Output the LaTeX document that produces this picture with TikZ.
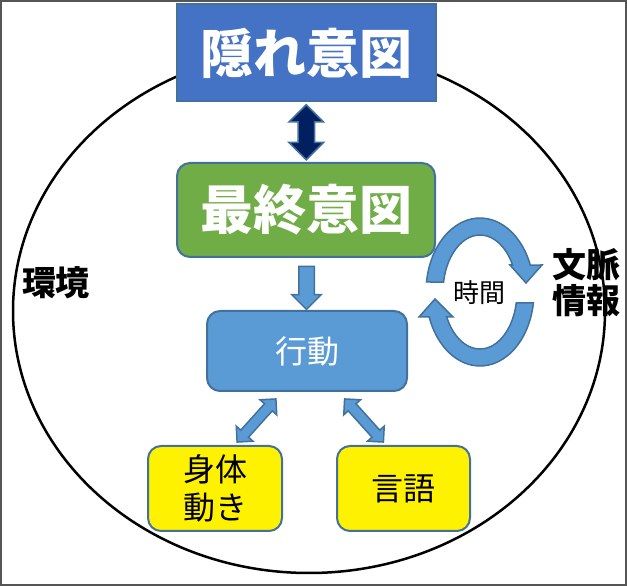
\documentclass[tikz,border=0pt]{standalone}
\usepackage{fontspec}
\newfontfamily\jp{Noto Sans CJK JP}
\usetikzlibrary{shapes.arrows,calc}
\definecolor{edge}{HTML}{41719C}
\definecolor{hidblue}{HTML}{4472C4}
\definecolor{fingreen}{HTML}{70AD47}
\definecolor{actblue}{HTML}{5B9BD5}
\definecolor{navy}{HTML}{002060}
\definecolor{framegray}{HTML}{555555}

\begin{document}
\begin{tikzpicture}[x=1pt,y=1pt,
    box/.style={draw=edge, line width=2pt, rounded corners=13pt, inner sep=0pt},
    textbox/.style={box, fill=yellow, minimum width=134pt, minimum height=85pt,
      align=center, font=\jp\fontsize{32}{38}\selectfont},
    dblarrow/.style={double arrow, draw=edge, line width=1.5pt, fill=actblue, inner xsep=0pt},
    cyclearrow/.style={draw=edge, line width=1.5pt, fill=actblue}]
    \useasboundingbox (0,0) rectangle (627,586);
    \draw[framegray, line width=2pt] (1,1) rectangle (626,585);
    \draw[line width=2.5pt] (309,275) ellipse [x radius=296, y radius=262];
    \node[box, rounded corners=0pt, fill=hidblue, minimum width=259pt, minimum height=97pt,
      text=white, font=\jp\bfseries\fontsize{53}{60}\selectfont] (hidden) at (306.5,533) {隠れ意図};
    \node[box, fill=fingreen, minimum width=258pt, minimum height=94pt,
      text=white, font=\jp\bfseries\fontsize{53}{60}\selectfont] (final) at (306,376) {最終意図};
    \node[box, fill=actblue, minimum width=200pt, minimum height=80pt,
      text=white, font=\jp\fontsize{32}{38}\selectfont] (action) at (307,235) {行動};
    \node[textbox] (body) at (215,97.5) {身体\\動き};
    \node[textbox, minimum width=133pt] (speech) at (403.5,97.5) {言語};
    \node[dblarrow, fill=navy, minimum height=55pt, inner ysep=7.5pt,
      double arrow head extend=9pt, rotate=90] (link)
      at ($(hidden.south)!0.5!(final.north)$) {};
    \node[single arrow, draw=edge, line width=1.5pt, fill=actblue, inner xsep=0pt, inner ysep=7pt,
      minimum height=43pt, single arrow head extend=7pt, rotate=-90] (down)
      at ($(final.south)!0.5!(action.north)$) {};
    \node[dblarrow, minimum height=58pt, inner ysep=4.5pt, double arrow head extend=6pt,
      rotate=48] (toleft) at (256.5,165.5) {};
    \node[dblarrow, minimum height=58pt, inner ysep=4.5pt, double arrow head extend=6pt,
      rotate=-48] (toright) at (364,165.5) {};
    \draw[cyclearrow] (426.5,304) arc[start angle=172.2, end angle=21.4, x radius=54, y radius=74]
      -- (542,321) -- (526,303) -- (510,321) -- (512.6,321)
      arc[start angle=28.3, end angle=169.9, x radius=37, y radius=57] -- cycle;
    \draw[cyclearrow] (533.4,283) arc[start angle=-8.55, end angle=-160.25, x radius=54, y radius=74]
      -- (419,269) -- (435,287) -- (453,269) -- (446.7,269)
      arc[start angle=-154, end angle=-11.1, x radius=37, y radius=57] -- cycle;
    \node[font=\jp\fontsize{26}{30}\selectfont] (time) at (479,293) {時間};
    \node[font=\jp\bfseries\fontsize{34}{36}\selectfont] (env) at (56,303) {環境};
    \node[align=center, font=\jp\bfseries\fontsize{34}{36}\selectfont] (context) at (586,303) {文脈\\情報};
\end{tikzpicture}
\end{document}
